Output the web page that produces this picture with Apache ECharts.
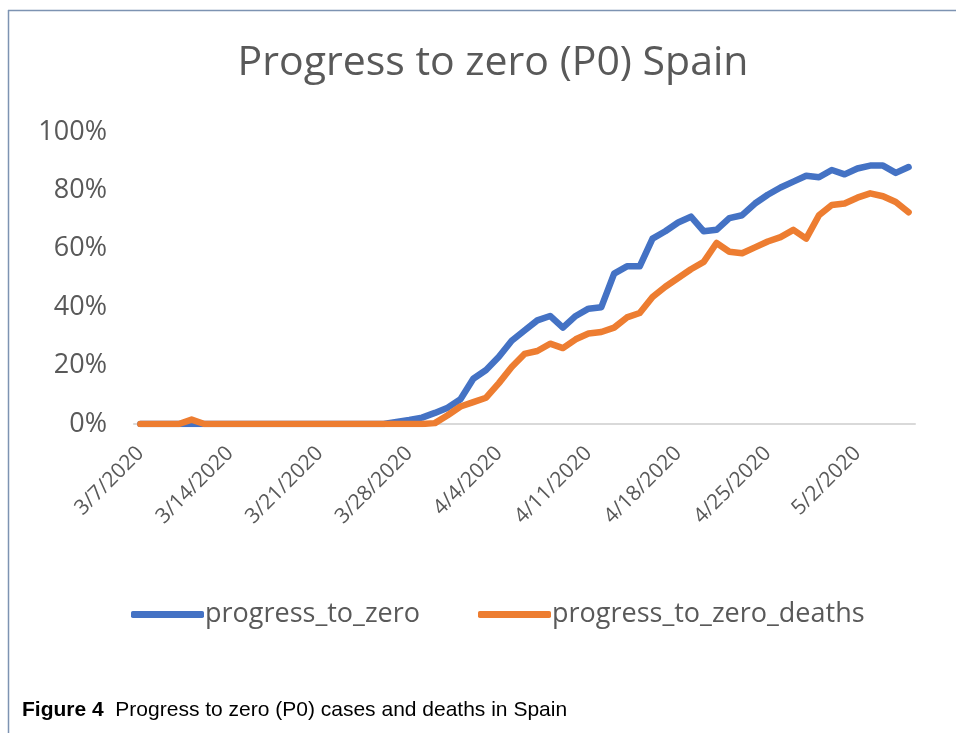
<!DOCTYPE html>
<html>
<head>
<meta charset="utf-8">
<script src="https://cdn.jsdelivr.net/npm/echarts@6/dist/echarts.min.js"></script>
<style>
html,body{margin:0;padding:0;background:#fff;}
#chart{width:956px;height:733px;}
</style>
</head>
<body>
<div id="chart"></div>
<script>
const dates = [
  "3/7/2020","3/8/2020","3/9/2020","3/10/2020","3/11/2020","3/12/2020","3/13/2020",
  "3/14/2020","3/15/2020","3/16/2020","3/17/2020","3/18/2020","3/19/2020","3/20/2020",
  "3/21/2020","3/22/2020","3/23/2020","3/24/2020","3/25/2020","3/26/2020","3/27/2020",
  "3/28/2020","3/29/2020","3/30/2020","3/31/2020","4/1/2020","4/2/2020","4/3/2020",
  "4/4/2020","4/5/2020","4/6/2020","4/7/2020","4/8/2020","4/9/2020","4/10/2020",
  "4/11/2020","4/12/2020","4/13/2020","4/14/2020","4/15/2020","4/16/2020","4/17/2020",
  "4/18/2020","4/19/2020","4/20/2020","4/21/2020","4/22/2020","4/23/2020","4/24/2020",
  "4/25/2020","4/26/2020","4/27/2020","4/28/2020","4/29/2020","4/30/2020","5/1/2020",
  "5/2/2020","5/3/2020","5/4/2020","5/5/2020","5/6/2020"
];
const progressToZero = [
  0,0,0,0,0,0,0,0,0,0,0,0,0,0,0,0,0,0,0,0,
  0.7,1.4,2.2,3.8,5.6,8.5,15.5,18.5,23,28.5,32,35.5,37,33,37,39.5,40,51.5,54,54,
  63.5,66,69,71,66,66.5,70.5,71.5,75.5,78.5,81,83,85,84.5,87,85.5,87.5,88.5,88.5,86,88
];
const progressToZeroDeaths = [
  0,0,0,0,1.5,0,0,0,0,0,0,0,0,0,0,0,0,0,0,0,0,0,0,
  0.3,3,6,7.5,9,14,19.5,24,25,27.5,26,29,31,31.5,33,36.5,38,
  43.5,47,50,53,55.5,62,59,58.5,60.5,62.5,64,66.5,63.5,71.5,75,75.5,77.5,79,78,76,72.5
];
const yTicks = [0,20,40,60,80,100];
const seriesNames = ["progress_to_zero","progress_to_zero_deaths"];
const colors = ["#4472C4","#ED7D31"];
const titleText = "Progress to zero (P0) Spain";
const captionBold = "Figure 4";
const captionText = "  Progress to zero (P0) cases and deaths in Spain";

const chart = echarts.init(document.getElementById('chart'), null, {renderer:'canvas'});
const txt = '#595959';
chart.setOption({
  backgroundColor:'#ffffff',
  animation:false,
  color: colors,
  grid:{left:134, right:41, top:132, bottom:309, containLabel:false},
  xAxis:{
    type:'category', data:dates, boundaryGap:true,
    axisTick:{show:false},
    axisLine:{lineStyle:{color:'#d9d9d9', width:2}},
    axisLabel:{interval:6, rotate:45, fontSize:21, color:txt, margin:26, padding:[16,0,0,0], fontFamily:'Open Sans'}
  },
  yAxis:{
    type:'value', min:yTicks[0], max:yTicks[yTicks.length-1], interval:20,
    splitLine:{show:false}, axisLine:{show:false}, axisTick:{show:false},
    axisLabel:{formatter:'{value}%', fontSize:27, color:txt, margin:27, fontFamily:'Open Sans'}
  },
  legend:{
    data:seriesNames, left:126, top:596, icon:'roundRect', itemWidth:73, itemHeight:7,
    itemGap:58, textStyle:{fontSize:27, color:txt, fontFamily:'Open Sans', padding:[0,0,0,-4]}
  },
  series:[
    {name:seriesNames[0], type:'line', data:progressToZero, showSymbol:false, smooth:false,
     lineStyle:{width:6.5, cap:'round', join:'round', color:colors[0]}, z:2},
    {name:seriesNames[1], type:'line', data:progressToZeroDeaths, showSymbol:false, smooth:false,
     lineStyle:{width:6.5, cap:'round', join:'round', color:colors[1]}, z:3}
  ],
  graphic:[
    {type:'line', shape:{x1:8, y1:10.5, x2:956, y2:10.5}, style:{stroke:'#7d93b2', lineWidth:1.5}, silent:true},
    {type:'line', shape:{x1:8.5, y1:10, x2:8.5, y2:733}, style:{stroke:'#7d93b2', lineWidth:1.5}, silent:true},
    {type:'text', x:493, y:63, style:{text:titleText, fontSize:41, fill:txt, fontFamily:'Open Sans', align:'center', verticalAlign:'middle'}},
    {type:'text', x:22, y:710, style:{
      text:'{b|'+captionBold+'}{r|'+captionText+'}', verticalAlign:'middle',
      rich:{b:{fontSize:21, fontWeight:'bold', fill:'#000', fontFamily:'Liberation Sans'},
            r:{fontSize:21, fill:'#000', fontFamily:'Liberation Sans'}}
    }}
  ]
});
</script>
</body>
</html>
